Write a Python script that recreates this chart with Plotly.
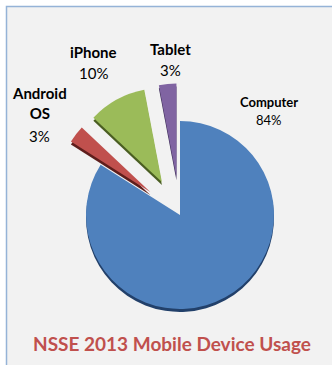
import plotly.graph_objects as go

labels = ["Computer", "Android OS", "iPhone", "Tablet"]
values = [84, 3, 10, 3]
colors = ["#4f81bd", "#c0504d", "#9bbb59", "#8064a2"]
shade = ["#22406a", "#5e1e1c", "#4a5e22", "#3c2c56"]
pulls = [0, 0.4, 0.4, 0.4]
title = "NSSE 2013 Mobile Device Usage"

W, H = 332, 365
# label placement (px): name center, percent center, font sizes
name_pos = [(269, 102), (39, 103), (93, 52), (170, 49)]
pct_pos = [(269, 120), (39, 136), (93, 73), (170, 70)]
name_size = [13, 15, 15, 15]
pct_size = [13, 15, 15, 15]

cx, cy, r = 180, 215, 94
box = 2 * r * (1 + max(pulls))

def dom(cx, cy):
    return dict(x=[(cx - box / 2) / W, (cx + box / 2) / W],
                y=[1 - (cy + box / 2) / H, 1 - (cy - box / 2) / H])

fig = go.Figure()
fig.add_trace(go.Pie(labels=labels, values=values, sort=False, direction="clockwise",
                     rotation=0, pull=pulls, marker=dict(colors=shade, line=dict(width=0)),
                     textinfo="none", hoverinfo="skip", showlegend=False,
                     domain=dom(cx, cy + 3)))
fig.add_trace(go.Pie(labels=labels, values=values, sort=False, direction="clockwise",
                     rotation=0, pull=pulls, marker=dict(colors=colors, line=dict(width=0)),
                     textinfo="none", showlegend=False,
                     domain=dom(cx, cy)))

ann = []
for i, lab in enumerate(labels):
    nx, ny = name_pos[i]
    px, py = pct_pos[i]
    ann.append(dict(x=nx / W, y=1 - ny / H, xref="paper", yref="paper", showarrow=False,
                    xanchor="center", yanchor="middle",
                    text="<b>" + lab.replace(" ", "<br>") + "</b>",
                    font=dict(family="Lato", size=name_size[i], color="#000000")))
    ann.append(dict(x=px / W, y=1 - py / H, xref="paper", yref="paper", showarrow=False,
                    xanchor="center", yanchor="middle",
                    text=f"{values[i]}%",
                    font=dict(family="Lato", size=pct_size[i], color="#000000")))
ann.append(dict(x=172 / W, y=1 - 343 / H, xref="paper", yref="paper", showarrow=False,
                xanchor="center", yanchor="middle",
                text="<b>" + title + "</b>",
                font=dict(family="Lato", size=19, color="#c0504d")))

fig.update_layout(
    width=W, height=H, margin=dict(l=0, r=0, t=0, b=0),
    paper_bgcolor="#ffffff",
    annotations=ann,
    shapes=[dict(type="rect", xref="paper", yref="paper", layer="below",
                 x0=6.5 / W, x1=1.05, y0=-0.05, y1=1 - 6.5 / H,
                 fillcolor="#f2f2f2", line=dict(color="#95b3d7", width=1.5))],
)
fig.write_html("out.html")
